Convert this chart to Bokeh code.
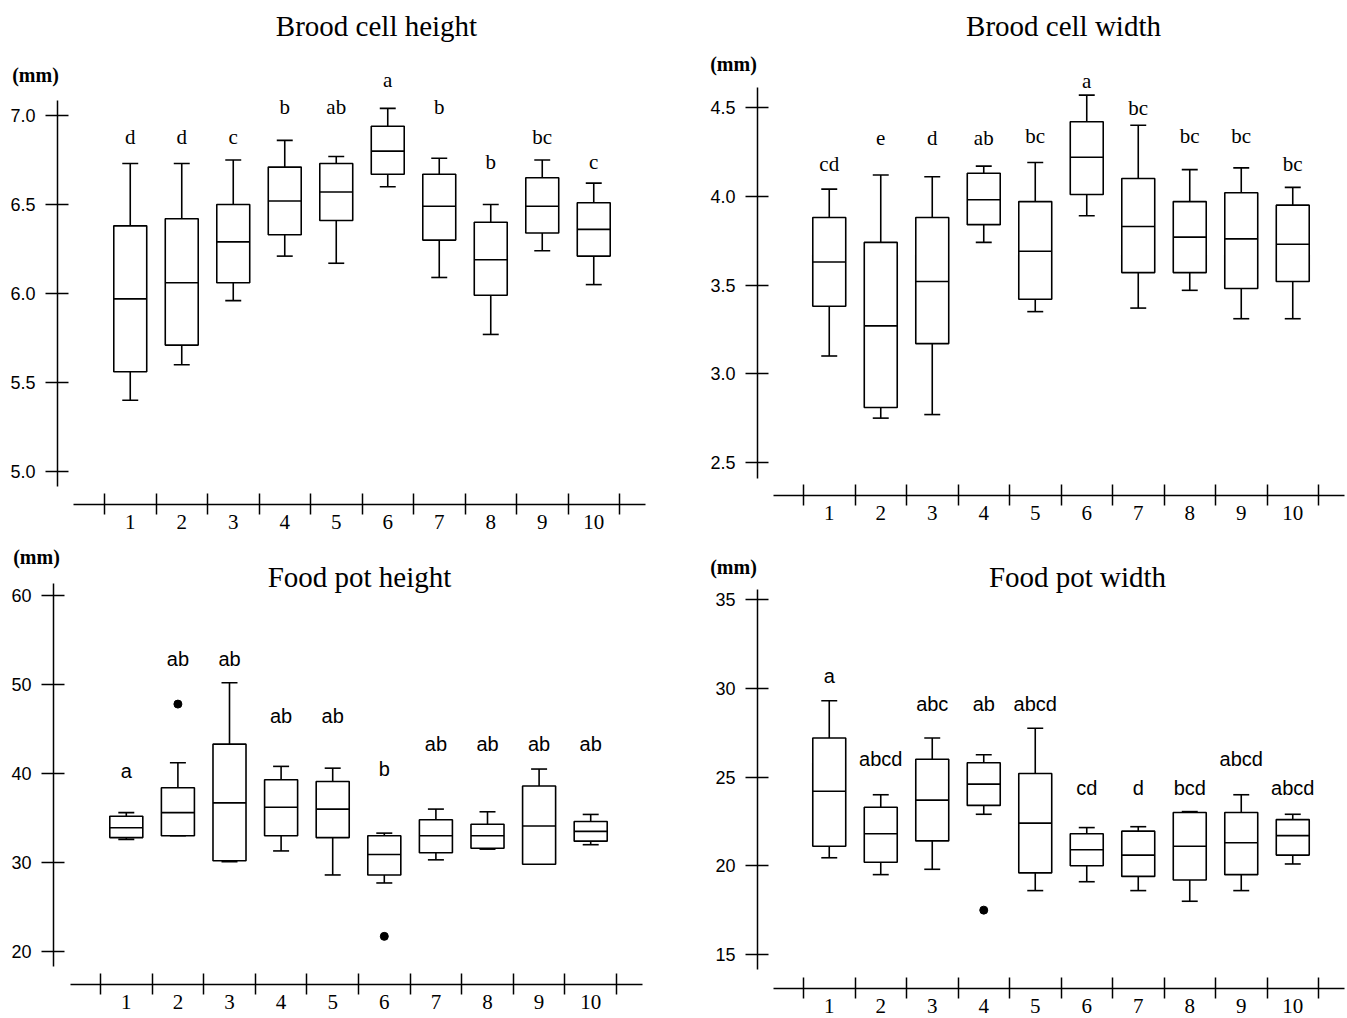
import numpy as np
from bokeh.plotting import figure
from bokeh.models import Range1d, FixedTicker, Label
from bokeh.layouts import row, column
from bokeh.embed import file_html
from bokeh.resources import INLINE
from bokeh.core.properties import value

groups = ["1", "2", "3", "4", "5", "6", "7", "8", "9", "10"]

# Brood cell height (mm)
bch_low  = [5.40, 5.60, 5.96, 6.21, 6.17, 6.60, 6.09, 5.77, 6.24, 6.05]
bch_q1   = [5.56, 5.71, 6.06, 6.33, 6.41, 6.67, 6.30, 5.99, 6.34, 6.21]
bch_med  = [5.97, 6.06, 6.29, 6.52, 6.57, 6.80, 6.49, 6.19, 6.49, 6.36]
bch_q3   = [6.38, 6.42, 6.50, 6.71, 6.73, 6.94, 6.67, 6.40, 6.65, 6.51]
bch_high = [6.73, 6.73, 6.75, 6.86, 6.77, 7.04, 6.76, 6.50, 6.75, 6.62]
bch_sig  = ["d", "d", "c", "b", "ab", "a", "b", "b", "bc", "c"]
bch_sig_y = [6.88, 6.88, 6.88, 7.05, 7.05, 7.20, 7.05, 6.74, 6.88, 6.74]
bch_out_group = []
bch_out_val = []
bch_ticks = [5.0, 5.5, 6.0, 6.5, 7.0]
bch_tick_labels = ["5.0", "5.5", "6.0", "6.5", "7.0"]

# Brood cell width (mm)
bcw_low  = [3.10, 2.75, 2.77, 3.74, 3.35, 3.89, 3.37, 3.47, 3.31, 3.31]
bcw_q1   = [3.38, 2.81, 3.17, 3.84, 3.42, 4.01, 3.57, 3.57, 3.48, 3.52]
bcw_med  = [3.63, 3.27, 3.52, 3.98, 3.69, 4.22, 3.83, 3.77, 3.76, 3.73]
bcw_q3   = [3.88, 3.74, 3.88, 4.13, 3.97, 4.42, 4.10, 3.97, 4.02, 3.95]
bcw_high = [4.04, 4.12, 4.11, 4.17, 4.19, 4.57, 4.40, 4.15, 4.16, 4.05]
bcw_sig  = ["cd", "e", "d", "ab", "bc", "a", "bc", "bc", "bc", "bc"]
bcw_sig_y = [4.18, 4.33, 4.33, 4.33, 4.34, 4.65, 4.50, 4.34, 4.34, 4.18]
bcw_out_group = []
bcw_out_val = []
bcw_ticks = [2.5, 3.0, 3.5, 4.0, 4.5]
bcw_tick_labels = ["2.5", "3.0", "3.5", "4.0", "4.5"]

# Food pot height (mm)
fph_low  = [32.6, 33.0, 30.1, 31.3, 28.6, 27.7, 30.3, 31.5, 30.1, 32.0]
fph_q1   = [32.8, 33.0, 30.2, 33.0, 32.8, 28.6, 31.1, 31.6, 29.8, 32.4]
fph_med  = [33.9, 35.6, 36.7, 36.2, 36.0, 30.9, 33.0, 33.0, 34.1, 33.5]
fph_q3   = [35.2, 38.4, 43.3, 39.3, 39.1, 33.0, 34.8, 34.3, 38.6, 34.6]
fph_high = [35.6, 41.2, 50.2, 40.8, 40.6, 33.3, 36.0, 35.7, 40.5, 35.4]
fph_sig  = ["a", "ab", "ab", "ab", "ab", "b", "ab", "ab", "ab", "ab"]
fph_sig_y = [40.3, 52.9, 52.9, 46.5, 46.5, 40.5, 43.3, 43.3, 43.3, 43.3]
fph_out_group = ["2", "6"]
fph_out_val = [47.8, 21.7]
fph_ticks = [20, 30, 40, 50, 60]
fph_tick_labels = ["20", "30", "40", "50", "60"]

# Food pot width (mm)
fpw_low  = [20.45, 19.5, 19.8, 22.9, 18.6, 19.1, 18.6, 18.0, 18.6, 20.1]
fpw_q1   = [21.1, 20.2, 21.4, 23.4, 19.6, 20.0, 19.4, 19.2, 19.5, 20.6]
fpw_med  = [24.2, 21.8, 23.7, 24.6, 22.4, 20.9, 20.6, 21.1, 21.3, 21.7]
fpw_q3   = [27.2, 23.3, 26.0, 25.8, 25.2, 21.8, 21.95, 23.0, 23.0, 22.6]
fpw_high = [29.3, 24.0, 27.2, 26.25, 27.75, 22.15, 22.2, 23.05, 24.0, 22.9]
fpw_sig  = ["a", "abcd", "abc", "ab", "abcd", "cd", "d", "bcd", "abcd", "abcd"]
fpw_sig_y = [30.7, 26.0, 29.1, 29.1, 29.1, 24.4, 24.4, 24.4, 26.0, 24.4]
fpw_out_group = ["4"]
fpw_out_val = [17.5]
fpw_ticks = [15, 20, 25, 30, 35]
fpw_tick_labels = ["15", "20", "25", "30", "35"]

SERIF = "Liberation Serif"
SANS = "Liberation Sans"


def make_panel(title, low, q1, med, q3, high, sig, sig_y, out_group, out_val,
               ticks, tick_labels, geo, sig_font, sig_size):
    g = geo
    fx, fy, w, h = g["fig"]
    x_half, x_ppu = g["xmap"]
    y_ref_val, y_ref_px, y_ppu = g["ymap"]

    def px2x(px):
        return 0.5 + (px - x_half) / x_ppu

    def py2y(py):
        return y_ref_val - (py - y_ref_px) / y_ppu

    p = figure(width=w, height=h, output_backend="svg", toolbar_location=None,
               x_range=Range1d(px2x(fx), px2x(fx + w)),
               y_range=Range1d(py2y(fy + h), py2y(fy)),
               title=None, min_border=0, min_border_left=0, min_border_right=0,
               min_border_top=0, min_border_bottom=0)
    p.grid.visible = False
    p.outline_line_color = None
    p.background_fill_color = "white"
    p.border_fill_color = "white"

    xs = np.arange(1, len(groups) + 1, dtype=float)

    # x axis: detached, ticks between groups, group labels centred
    xa = p.xaxis[0]
    xa.fixed_location = py2y(g["xaxis_py"])
    xa.ticker = FixedTicker(ticks=list(xs), minor_ticks=list(np.arange(0.5, len(groups) + 1, 1.0)))
    xa.major_label_overrides = {int(x): lab for x, lab in zip(xs, groups)}
    xa.major_tick_in = 0
    xa.major_tick_out = 0
    xa.minor_tick_in = 11
    xa.minor_tick_out = 10
    xa.minor_tick_line_width = 1.5
    xa.minor_tick_line_color = "black"
    xa.axis_line_width = 1.5
    xa.axis_line_color = "black"
    xa.major_label_standoff = 0
    xa.major_label_text_font = SERIF
    xa.major_label_text_font_size = "21px"
    xa.major_label_text_color = "black"
    xa.bounds = (px2x(g["xbounds_px"][0]), px2x(g["xbounds_px"][1]))

    # y axis: detached, ticks crossing the line
    ya = p.yaxis[0]
    ya.fixed_location = px2x(g["yaxis_px"])
    ya.ticker = FixedTicker(ticks=ticks, minor_ticks=[])
    ya.major_label_overrides = {t: lab for t, lab in zip(ticks, tick_labels)}
    ya.major_tick_in = 11
    ya.major_tick_out = 12
    ya.major_tick_line_width = 1.5
    ya.major_tick_line_color = "black"
    ya.minor_tick_in = 0
    ya.minor_tick_out = 0
    ya.axis_line_width = 1.5
    ya.axis_line_color = "black"
    ya.major_label_standoff = 10
    ya.major_label_text_font = SANS
    ya.major_label_text_font_size = "18px"
    ya.major_label_text_color = "black"
    ya.bounds = (py2y(g["ybounds_px"][1]), py2y(g["ybounds_px"][0]))

    lw = 1.6
    bw = 0.64
    cw = 0.155
    p.segment(xs, q3, xs, high, line_color="black", line_width=lw)
    p.segment(xs, low, xs, q1, line_color="black", line_width=lw)
    p.segment(xs - cw, high, xs + cw, high, line_color="black", line_width=lw)
    p.segment(xs - cw, low, xs + cw, low, line_color="black", line_width=lw)
    p.vbar(x=xs, width=bw, bottom=q1, top=q3, fill_color="white",
           line_color="black", line_width=lw)
    p.segment(xs - bw / 2, med, xs + bw / 2, med, line_color="black", line_width=lw)
    if out_group:
        ox = [groups.index(gr) + 1 for gr in out_group]
        p.scatter(ox, out_val, size=8, color="black")
    p.text(xs, sig_y, text=sig, text_align="center", text_baseline="middle",
           text_font=value(sig_font), text_font_size=sig_size, text_color="black")

    mmx, mmy = g["mm_px"]
    p.add_layout(Label(x=px2x(mmx), y=py2y(mmy), text="(mm)", text_align="center",
                       text_baseline="middle", text_font=SERIF,
                       text_font_size="20px", text_font_style="bold",
                       text_color="black"))
    tcx, tcy = g["title_px"]
    p.add_layout(Label(x=px2x(tcx), y=py2y(tcy), text=title, text_align="center",
                       text_baseline="middle", text_font=SERIF,
                       text_font_size="29px", text_color="black"))
    return p


g1 = dict(fig=(0, 0, 673, 536), xmap=(104, 51.5), ymap=(7.0, 115, 178.0),
          yaxis_px=57, xaxis_py=504, ybounds_px=(100, 486), xbounds_px=(73, 645),
          mm_px=(35, 74), title_px=(376, 25))
g2 = dict(fig=(673, 0, 673, 536), xmap=(803, 51.5), ymap=(4.5, 107, 177.5),
          yaxis_px=757, xaxis_py=495, ybounds_px=(87, 478), xbounds_px=(773, 1344),
          mm_px=(733, 63), title_px=(1063, 25))
g3 = dict(fig=(0, 536, 673, 481), xmap=(100, 51.6), ymap=(20, 951, 8.9),
          yaxis_px=53, xaxis_py=984, ybounds_px=(583, 966), xbounds_px=(70, 642),
          mm_px=(36, 556), title_px=(359, 576))
g4 = dict(fig=(673, 536, 673, 481), xmap=(803, 51.5), ymap=(15, 954, 17.75),
          yaxis_px=757, xaxis_py=988, ybounds_px=(589, 969), xbounds_px=(773, 1344),
          mm_px=(733, 566), title_px=(1077, 576))

p1 = make_panel("Brood cell height", bch_low, bch_q1, bch_med, bch_q3, bch_high,
                bch_sig, bch_sig_y, bch_out_group, bch_out_val, bch_ticks, bch_tick_labels,
                g1, SERIF, "21px")
p2 = make_panel("Brood cell width", bcw_low, bcw_q1, bcw_med, bcw_q3, bcw_high,
                bcw_sig, bcw_sig_y, bcw_out_group, bcw_out_val, bcw_ticks, bcw_tick_labels,
                g2, SERIF, "21px")
p3 = make_panel("Food pot height", fph_low, fph_q1, fph_med, fph_q3, fph_high,
                fph_sig, fph_sig_y, fph_out_group, fph_out_val, fph_ticks, fph_tick_labels,
                g3, SANS, "20px")
p4 = make_panel("Food pot width", fpw_low, fpw_q1, fpw_med, fpw_q3, fpw_high,
                fpw_sig, fpw_sig_y, fpw_out_group, fpw_out_val, fpw_ticks, fpw_tick_labels,
                g4, SANS, "20px")

layout = column(row(p1, p2), row(p3, p4))
open("out.html", "w").write(file_html(layout, INLINE))
